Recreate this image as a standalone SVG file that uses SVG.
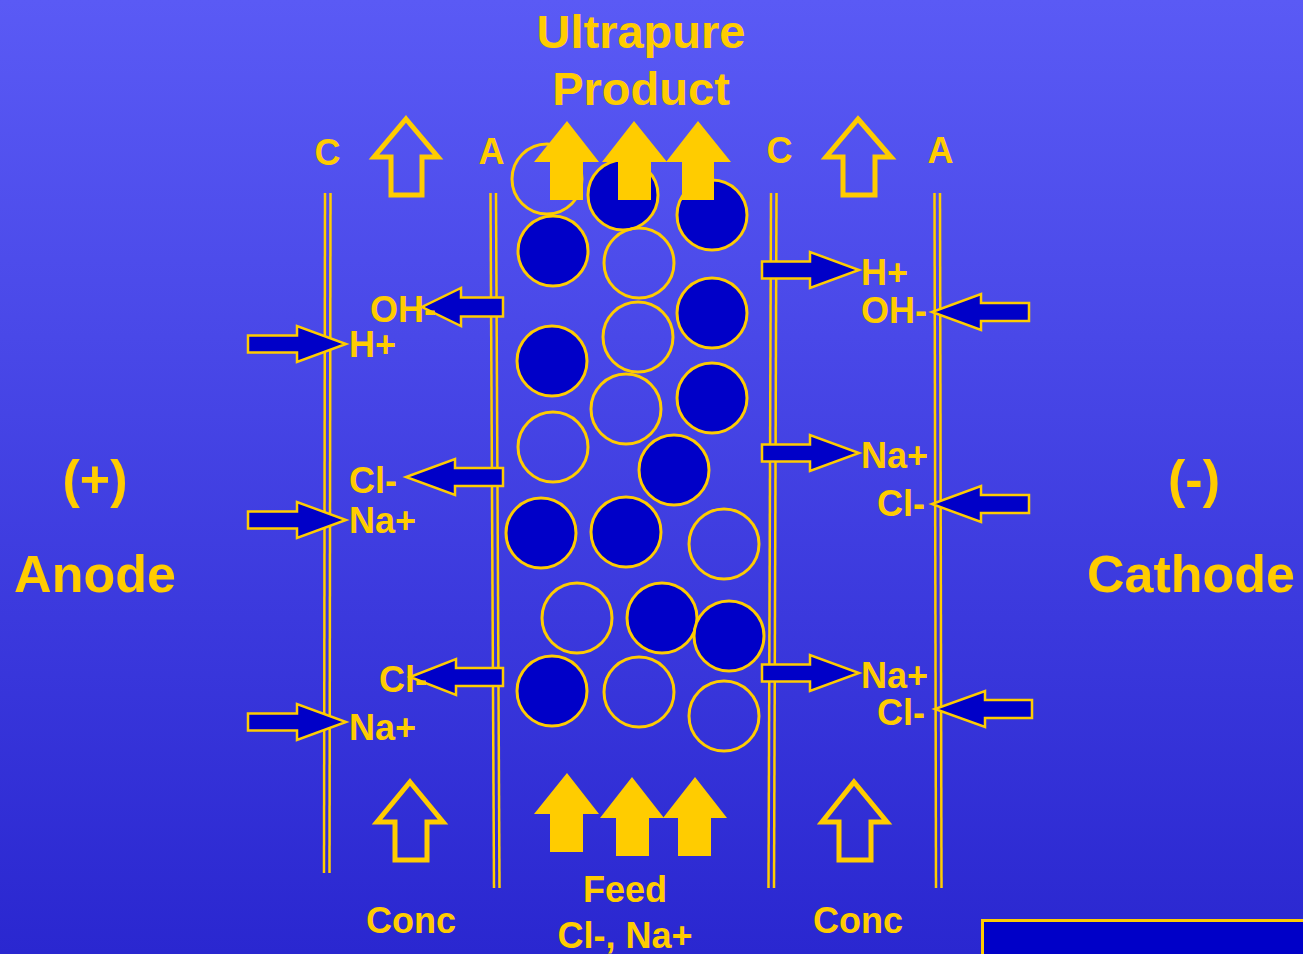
<svg xmlns="http://www.w3.org/2000/svg" width="1303" height="954" viewBox="0 0 1303 954">
<defs>
<linearGradient id="bg" x1="0" y1="0" x2="0" y2="1">
<stop offset="0" stop-color="#5a5af5"/>
<stop offset="1" stop-color="#2a27d0"/>
</linearGradient>
</defs>
<style>
.t{font-family:"Liberation Sans",Arial,sans-serif;font-weight:bold;fill:#ffcc00}
.ion{font-size:36px}
.mem{stroke:#ffcc00;stroke-width:2.5;fill:none}
.bead{stroke:#ffcc00;stroke-width:3}
.full{fill:#0000c8}
.empty{fill:none}
.hollow{fill:none;stroke:#ffcc00;stroke-width:5;stroke-linejoin:miter}
.solid{fill:#ffcc00}
.blk{fill:#0000c8;stroke:#ffcc00;stroke-width:2.5;stroke-linejoin:miter}
</style>
<rect width="1303" height="954" fill="url(#bg)"/>

<g id="membranes">
<line class="mem" x1="325" y1="193" x2="324" y2="873"/>
<line class="mem" x1="330.5" y1="193" x2="329.5" y2="873"/>
<line class="mem" x1="490.5" y1="193" x2="494" y2="888"/>
<line class="mem" x1="496" y1="193" x2="499.5" y2="888"/>
<line class="mem" x1="771" y1="193" x2="768.5" y2="888"/>
<line class="mem" x1="776.5" y1="193" x2="774" y2="888"/>
<line class="mem" x1="934.5" y1="193" x2="936" y2="888"/>
<line class="mem" x1="940" y1="193" x2="941.5" y2="888"/>
</g>

<g id="beads">
<circle class="bead empty" cx="547" cy="179" r="35"/>
<circle class="bead full" cx="623" cy="195" r="35"/>
<circle class="bead full" cx="712" cy="215" r="35"/>
<circle class="bead full" cx="553" cy="251" r="35"/>
<circle class="bead empty" cx="639" cy="263" r="35"/>
<circle class="bead full" cx="712" cy="313" r="35"/>
<circle class="bead empty" cx="638" cy="337" r="35"/>
<circle class="bead full" cx="552" cy="361" r="35"/>
<circle class="bead full" cx="712" cy="398" r="35"/>
<circle class="bead empty" cx="626" cy="409" r="35"/>
<circle class="bead empty" cx="553" cy="447" r="35"/>
<circle class="bead full" cx="674" cy="470" r="35"/>
<circle class="bead full" cx="541" cy="533" r="35"/>
<circle class="bead full" cx="626" cy="532" r="35"/>
<circle class="bead empty" cx="724" cy="544" r="35"/>
<circle class="bead empty" cx="577" cy="618" r="35"/>
<circle class="bead full" cx="662" cy="618" r="35"/>
<circle class="bead full" cx="729" cy="636" r="35"/>
<circle class="bead full" cx="552" cy="691" r="35"/>
<circle class="bead empty" cx="639" cy="692" r="35"/>
<circle class="bead empty" cx="724" cy="716" r="35"/>
</g>

<g id="flow-arrows">
<polygon class="hollow" points="406,119 438,157 422,157 422,195 391,195 391,157 374,157"/>
<polygon class="hollow" points="858,119 891,157 875,157 875,195 843,195 843,157 826,157"/>
<polygon class="hollow" points="410,782 443,822 427,822 427,860 395,860 395,822 377,822"/>
<polygon class="hollow" points="854,782 887,822 871,822 871,860 839,860 839,822 822,822"/>
<polygon class="solid" points="567,121 599,162 583,162 583,200 550,200 550,162 534,162"/>
<polygon class="solid" points="634,121 667,162 651,162 651,200 618,200 618,162 602,162"/>
<polygon class="solid" points="698,121 731,162 714,162 714,200 682,200 682,162 666,162"/>
<polygon class="solid" points="567,773 599,814 583,814 583,852 550,852 550,814 534,814"/>
<polygon class="solid" points="632,777 664,818 649,818 649,856 616,856 616,818 600,818"/>
<polygon class="solid" points="695,777 727,818 711,818 711,856 678,856 678,818 663,818"/>
</g>

<g id="connectors">
<polygon class="blk" points="248,335.5 297,335.5 297,326 346,344 297,362 297,352.5 248,352.5"/>
<polygon class="blk" points="248,511.5 297,511.5 297,502 346,520 297,538 297,528.5 248,528.5"/>
<polygon class="blk" points="248,713.5 297,713.5 297,704 346,722 297,740 297,730.5 248,730.5"/>
<polygon class="blk" points="762,261.5 810,261.5 810,252 859,270 810,288 810,278.5 762,278.5"/>
<polygon class="blk" points="762,444.5 810,444.5 810,435 859,453 810,471 810,461.5 762,461.5"/>
<polygon class="blk" points="762,664.5 810,664.5 810,655 859,673 810,691 810,681.5 762,681.5"/>
<polygon class="blk" points="503,297.5 461,297.5 461,288 422,307 461,326 461,316.5 503,316.5"/>
<polygon class="blk" points="503,468 455,468 455,459 406,477 455,495 455,486 503,486"/>
<polygon class="blk" points="503,668 456,668 456,659 410,677 456,695 456,686 503,686"/>
<polygon class="blk" points="1029,303 981,303 981,294 932,312 981,330 981,321 1029,321"/>
<polygon class="blk" points="1029,495 981,495 981,486 932,504 981,522 981,513 1029,513"/>
<polygon class="blk" points="1032,700 985,700 985,691 935,709 985,727 985,718 1032,718"/>
</g>

<g id="labels">
<text class="t" x="641" y="48" font-size="47" text-anchor="middle">Ultrapure</text>
<text class="t" x="641" y="105" font-size="47" text-anchor="middle">Product</text>
<text class="t" x="327.5" y="165" font-size="36" text-anchor="middle">C</text>
<text class="t" x="491.5" y="164" font-size="36" text-anchor="middle">A</text>
<text class="t" x="779.5" y="163" font-size="36" text-anchor="middle">C</text>
<text class="t" x="940.5" y="163" font-size="36" text-anchor="middle">A</text>
<text class="t" x="95" y="497" font-size="52" text-anchor="middle">(+)</text>
<text class="t" x="95" y="592" font-size="52" text-anchor="middle">Anode</text>
<text class="t" x="1194" y="497" font-size="52" text-anchor="middle">(-)</text>
<text class="t" x="1087" y="592" font-size="52">Cathode</text>
<text class="t ion" x="370" y="322">OH-</text>
<text class="t ion" x="349" y="357">H+</text>
<text class="t ion" x="349" y="493">Cl-</text>
<text class="t ion" x="349" y="533">Na+</text>
<text class="t ion" x="379" y="692">Cl-</text>
<text class="t ion" x="349" y="740">Na+</text>
<text class="t ion" x="861" y="285">H+</text>
<text class="t ion" x="861" y="323">OH-</text>
<text class="t ion" x="861" y="468">Na+</text>
<text class="t ion" x="877" y="516">Cl-</text>
<text class="t ion" x="861" y="688">Na+</text>
<text class="t ion" x="877" y="725">Cl-</text>
<text class="t ion" x="411" y="933" text-anchor="middle">Conc</text>
<text class="t ion" x="858" y="933" text-anchor="middle">Conc</text>
<text class="t ion" x="625" y="902" text-anchor="middle">Feed</text>
<text class="t ion" x="625" y="948" text-anchor="middle">Cl-, Na+</text>
</g>

<rect x="982.5" y="920.5" width="400" height="100" fill="#0000c8" stroke="#ffcc00" stroke-width="3"/>
</svg>
